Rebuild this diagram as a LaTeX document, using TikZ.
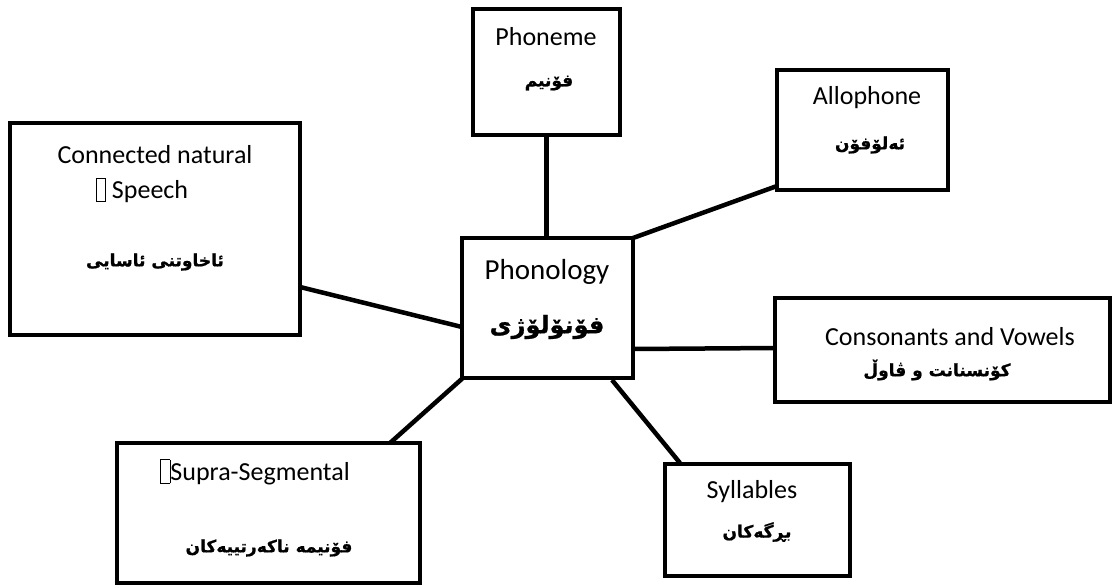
\documentclass[tikz,border=0pt]{standalone}
\usepackage{fontspec}
\setmainfont{Carlito}
\newfontfamily\arabicfont[Script=Arabic,BoldFeatures={FakeBold=1}]{DejaVu Sans}
\TeXXeTstate=1
\newcommand\tofu{\raisebox{-3pt}{\fboxsep=0pt\fboxrule=0.6pt\fbox{\rule{0pt}{23pt}\hspace{9pt}}}}
\begin{document}
\begin{tikzpicture}[x=1pt,y=-1pt,
  box/.style={draw,line width=4.5pt,inner sep=0pt,outer sep=0pt},
  link/.style={line width=4.5pt},
  en/.style={inner sep=0pt,font=\fontsize{26}{30}\selectfont},
  enbig/.style={inner sep=0pt,font=\fontsize{29}{33}\selectfont},
  ar/.style={inner sep=0pt,font=\arabicfont\bfseries\fontsize{17}{20}\selectfont},
  arbig/.style={inner sep=0pt,font=\arabicfont\bfseries\fontsize{24}{28}\selectfont}]
\useasboundingbox (0,0) rectangle (1112,587);
% boxes
\node[box,minimum width=171pt,minimum height=140pt] (phon) at (547.5,308) {};
\node[box,minimum width=147pt,minimum height=126pt] (pnm) at (546.5,72) {};
\node[box,minimum width=171pt,minimum height=120pt] (allo) at (862.5,130) {};
\node[box,minimum width=290pt,minimum height=212pt] (conn) at (155,229) {};
\node[box,minimum width=335pt,minimum height=104pt] (cons) at (942.5,350) {};
\node[box,minimum width=185pt,minimum height=112pt] (syl) at (757.5,520) {};
\node[box,minimum width=303pt,minimum height=140pt] (supra) at (268.5,513) {};
% texts
\node[enbig] (phonE) at (547,272) {Phonology};
\node[arbig] (phonA) at (547,327) {\beginR فۆنۆلۆژی\endR};
\node[en] (pnmE) at (546,37) {Phoneme};
\node[ar] (pnmA) at (549,83) {\beginR فۆنیم\endR};
\node[en] (alloE) at (867,98) {Allophone};
\node[ar] (alloA) at (870,145) {\beginR ئەلۆفۆن\endR};
\node[en] (connE1) at (155,155) {Connected natural};
\node[en] (connE2) at (142,190) {\tofu\ Speech};
\node[ar] (connA) at (155,262) {\beginR ئاخاوتنی ئاسایی\endR};
\node[en] (consE) at (950,337) {Consonants and Vowels};
\node[ar] (consA) at (937,370) {\beginR کۆنسنانت و ڤاوڵ\endR};
\node[en] (sylE) at (752,492) {Syllables};
\node[ar] (sylA) at (757,532) {\beginR بڕگەکان\endR};
\node[en] (supE) at (255,472) {\tofu Supra-Segmental};
\node[ar] (supA) at (269,548) {\beginR فۆنیمە ناکەرتییەکان\endR};
% connector end points
\coordinate (pnmEnd) at (pnm.south |- phon.north);
\coordinate (alloEnd) at (777,186);
\coordinate (connStart) at (300,287);
\coordinate (phonL) at (462,327);
\coordinate (consEnd) at (775,348);
\coordinate (phonR) at (633,349);
\coordinate (sylStart) at (612,380);
\coordinate (sylEnd) at (680,463);
\coordinate (supStart) at (464,377);
\coordinate (supEnd) at (390,443);
% connectors
\draw[link] (pnm.south) -- (pnmEnd);
\draw[link] (phon.north east) -- (alloEnd);
\draw[link] (connStart) -- (phonL);
\draw[link] (phonR) -- (consEnd);
\draw[link] (sylStart) -- (sylEnd);
\draw[link] (supStart) -- (supEnd);
\end{tikzpicture}
\end{document}
